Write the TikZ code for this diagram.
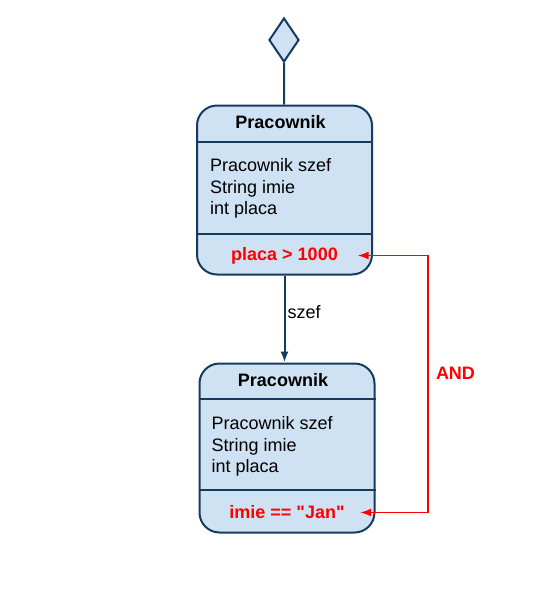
\documentclass[tikz,border=0pt]{standalone}
\usepackage{fontspec}
\setmainfont{Liberation Sans}[Ligatures=TeXOff]
\usetikzlibrary{shapes.geometric, arrows.meta, positioning, calc}
\definecolor{umlblue}{RGB}{22,58,96}
\definecolor{umlfill}{RGB}{207,226,243}
\definecolor{condred}{RGB}{255,0,0}
\tikzset{
  stan/.style={rectangle, draw=umlblue, fill=umlfill, rounded corners=20pt, line width=2pt, minimum width=175pt, minimum height=169pt, inner sep=0pt},
  tytul/.style={font=\fontsize{18}{21.5}\selectfont\bfseries, inner sep=0pt},
  pola/.style={font=\fontsize{18}{21.5}\selectfont, align=left, anchor=north west, inner sep=0pt},
  warunek/.style={font=\fontsize{18}{21.5}\selectfont\bfseries, text=condred, minimum width=146pt, inner sep=0pt},
  arrow/.style={-{Latex[length=11pt,width=8pt]}, line width=2pt, color=umlblue},
  line/.style={line width=2pt, color=umlblue},
  redline/.style={{Latex[length=11pt,width=8pt]}-{Latex[length=11pt,width=8pt]}, line width=1.6pt, color=condred}
}
\begin{document}
\begin{tikzpicture}[x=1pt, y=-1pt]
  \useasboundingbox (0,0) rectangle (553,590);

  \node [diamond, draw=umlblue, fill=umlfill, line width=2pt, minimum width=30pt, minimum height=44pt, inner sep=0pt] (start) at (284,40) {};

  % pierwszy stan
  \node [stan] (p1) at (284.5,190) {};
  \node [tytul] (p1tytul) at ([xshift=-4pt, yshift=-18pt]p1.north) {Pracownik};
  \draw [line] ([yshift=-37pt]p1.north west) -- ([yshift=-37pt]p1.north east);
  \draw [line] ([yshift=42pt]p1.south west) -- ([yshift=42pt]p1.south east);
  \node [pola] (p1pola) at ([xshift=14pt, yshift=-54pt]p1.north west) {Pracownik szef\\String imie\\int placa};
  \node [warunek] (p1war) at ([yshift=20pt]p1.south) {placa > 1000};

  % drugi stan
  \node [stan] (p2) at (287,448) {};
  \node [tytul] (p2tytul) at ([xshift=-4pt, yshift=-18pt]p2.north) {Pracownik};
  \draw [line] ([yshift=-36pt]p2.north west) -- ([yshift=-36pt]p2.north east);
  \draw [line] ([yshift=44pt]p2.south west) -- ([yshift=44pt]p2.south east);
  \node [pola] (p2pola) at ([xshift=13pt, yshift=-54pt]p2.north west) {Pracownik szef\\String imie\\int placa};
  \node [warunek] (p2war) at ([yshift=21pt]p2.south) {imie == "Jan"};

  \draw [line] (start) -- (p1);
  \draw [arrow] (p1.south) -- node[pos=0.42, right=2pt, font=\fontsize{18}{21.5}\selectfont, text=black, inner sep=0pt] {szef} (p1.south |- p2.north);
  \draw [redline] (p1war.east) -- ++(70.5,0) |- node[pos=0.23, right=7pt, inner sep=0pt, font=\fontsize{18}{21.5}\selectfont\bfseries, text=condred] {AND} (p2war.east);
\end{tikzpicture}
\end{document}
